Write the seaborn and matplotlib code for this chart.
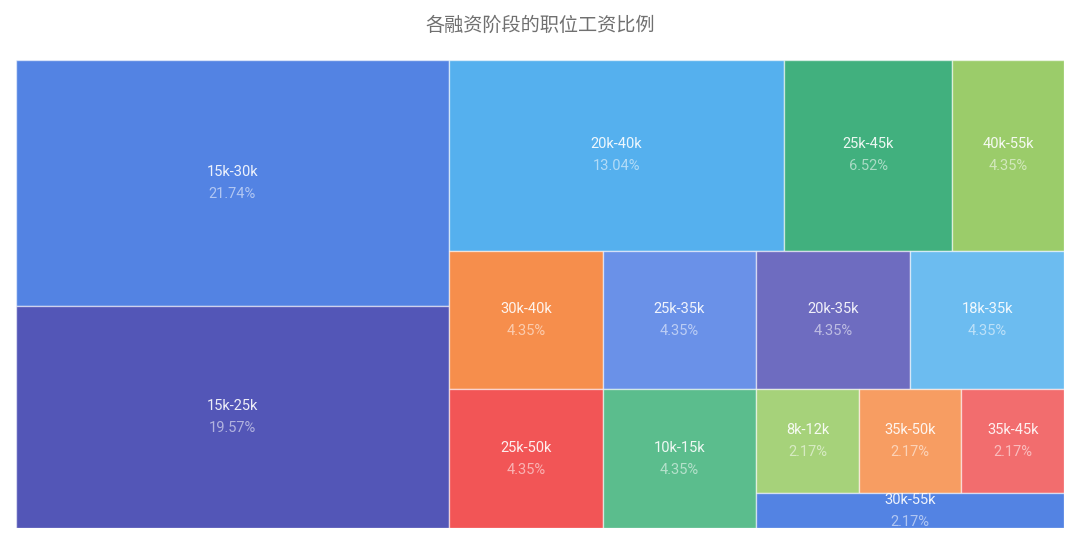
import math
import matplotlib
matplotlib.use("Agg")
import matplotlib.pyplot as plt
import seaborn as sns
from matplotlib.patches import Rectangle

# ---- data ----
categories = ["15k-30k", "15k-25k", "20k-40k", "25k-45k", "40k-55k",
              "30k-40k", "25k-50k", "25k-35k", "20k-35k", "18k-35k",
              "10k-15k", "8k-12k", "35k-50k", "35k-45k", "30k-55k"]
counts = [10, 9, 6, 3, 2, 2, 2, 2, 2, 2, 2, 1, 1, 1, 1]
title = "各融资阶段的职位工资比例"

# ---- style ----
palette = ["#5383E3", "#5356B7", "#55B0EE", "#41B07E", "#9BCC6A",
           "#F68E4C", "#F25556", "#6A91E8", "#6E6CC0", "#6CBCF0",
           "#5BBD8D", "#A6D27A", "#F79D62", "#F26D6E", "#5383E3"]

sns.set_theme(style="white")
plt.rcParams["font.family"] = ["Noto Sans CJK SC", "DejaVu Sans"]


def aspect(a, b):
    if a == 0 or b == 0 or a != a or b != b:
        return float("nan")
    return max(a / b, b / a)


def squarified(values, x0, y0, W, H):
    """Low-aspect-ratio squarified layout with alternating direction."""
    total_v = sum(values)
    areas = [W * H * v / total_v for v in values]
    g = {"width": W, "height": H, "dir": 0, "nW": 0.0, "lW": 0.0,
         "nH": 0.0, "lH": 0.0, "el": [], "total": 0.0, "lR": float("nan"),
         "nR": float("nan")}
    plot = {"x": x0, "y": y0}
    out = []

    def add(el):
        last = g["el"][-1] if g["el"] else None
        g["total"] += el
        if g["dir"] == 0:
            g["lW"] = g["nW"]
            g["nW"] = g["total"] / g["height"]
            if last is None:
                g["lR"] = g["nR"] = float("nan")
            else:
                g["lR"] = aspect(g["lW"], last / g["lW"])
                g["nR"] = aspect(g["nW"], last / g["nW"])
        else:
            g["lH"] = g["nH"]
            g["nH"] = g["total"] / g["width"]
            if last is None:
                g["lR"] = g["nR"] = float("nan")
            else:
                g["lR"] = aspect(last / g["lH"], g["lH"])
                g["nR"] = aspect(last / g["nH"], g["nH"])
        g["el"].append(el)

    def calc(last):
        if last:
            gW, gH = g["nW"], g["nH"]
            items = list(g["el"])
            keep = None
        else:
            gW, gH = g["lW"], g["lH"]
            items = g["el"][:-1]
            keep = g["el"][-1]
        px, py = plot["x"], plot["y"]
        for p in items:
            if g["dir"] == 0:
                pw, ph = gW, p / gW
                out.append((px, py, pw, ph))
                py += ph
            else:
                ph, pw = gH, p / gH
                out.append((px, py, pw, ph))
                px += pw
        g["nW"] = g["lW"] = 0.0
        g["el"] = []
        g["total"] = 0.0
        if g["dir"] == 0:
            g["width"] -= gW
        else:
            g["height"] -= gH
        plot["y"] = y0 + (H - g["height"])
        plot["x"] = x0 + (W - g["width"])
        g["dir"] = 1 - g["dir"]
        if keep is not None:
            add(keep)

    n = len(areas)
    for i, a in enumerate(areas):
        add(a)
        if g["nR"] > g["lR"]:
            calc(False)
        if i == n - 1:
            calc(True)
    return out


dpi = 100
fig = plt.figure(figsize=(10.8, 5.41), dpi=dpi)
left_px, right_px, top_px, bottom_px = 16, 1064, 60, 528
ax = fig.add_axes([left_px / 1080, 1 - bottom_px / 541,
                   (right_px - left_px) / 1080, (bottom_px - top_px) / 541])
W = right_px - left_px
H = bottom_px - top_px
ax.set_xlim(0, W)
ax.set_ylim(H, 0)
ax.set_axis_off()

label_font = ["Roboto", "Noto Sans CJK SC", "DejaVu Sans"]
rects = squarified(counts, 0, 0, W, H)
total = sum(counts)
for (x, y, w, h), name, cnt, col in zip(rects, categories, counts, palette):
    ax.add_patch(Rectangle((x, y), w, h, facecolor=col,
                           edgecolor=(1, 1, 1, 0.55), linewidth=1.0))
    cx, cy = x + w / 2, y + h / 2
    ax.text(cx, cy - 11, name, ha="center", va="center", fontsize=10.5,
            family=label_font, color=(1, 1, 1, 0.9))
    ax.text(cx, cy + 11, f"{cnt / total * 100:.2f}%", ha="center",
            va="center", fontsize=10.5, family=label_font,
            color=(1, 1, 1, 0.55))

fig.text(0.5, 1 - 25 / 541, title, ha="center", va="center",
         fontsize=13.8, color="#707070")

fig.savefig("out.png", dpi=dpi)
